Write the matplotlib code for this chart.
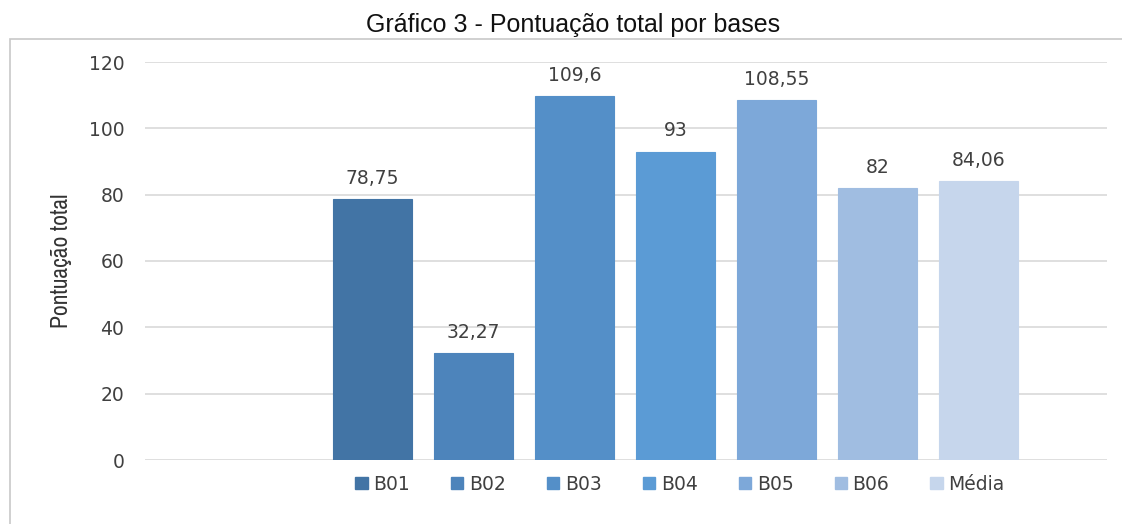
import matplotlib
matplotlib.use("Agg")
import matplotlib.pyplot as plt
from matplotlib import font_manager
from matplotlib.patches import Rectangle, Patch

# dados do gráfico
bases = ["B01", "B02", "B03", "B04", "B05", "B06", "Média"]
pontuacao = [78.75, 32.27, 109.6, 93, 108.55, 82, 84.06]
rotulos = ["78,75", "32,27", "109,6", "93", "108,55", "82", "84,06"]
cores = ["#4274a5", "#4d84bb", "#548fc8", "#5b9bd5", "#7da8d9", "#a0bde1", "#c6d6ec"]

# fonte estreita para o rótulo do eixo y, se houver
estreitas = sorted({f.name for f in font_manager.fontManager.ttflist
                    if "Narrow" in f.name or "Condensed" in f.name})
fonte_y = (estreitas[:1] or []) + ["DejaVu Sans"]

W, H = 1122, 524
fig = plt.figure(figsize=(W / 100, H / 100), dpi=100)
fig.patch.set_facecolor("white")

# moldura do gráfico
fig.patches.append(Rectangle((10 / W, -0.05), 1.2, 1 - 39 / H + 0.05,
                             transform=fig.transFigure, fill=False,
                             edgecolor="#c8c8c8", linewidth=1.2))

ax = fig.add_axes([145 / W, 1 - 460 / H, (1107 - 145) / W, (460 - 62) / H])
x = list(range(len(bases)))
ax.bar(x, pontuacao, width=0.78, color=cores, edgecolor=cores, linewidth=0.8, zorder=3)

for xi, v, t in zip(x, pontuacao, rotulos):
    ax.annotate(t, (xi, v), xytext=(0, 8), textcoords="offset points",
                ha="center", va="bottom", fontsize=13.5, color="#404040")

ax.set_xlim(-2.25, 7.27)
ax.set_ylim(0, 120)
ax.set_yticks(range(0, 121, 20))
ax.set_xticks([])
ax.grid(axis="y", color="#d9d9d9", linewidth=1.2, zorder=0)
for s in ax.spines.values():
    s.set_visible(False)
ax.tick_params(axis="y", length=0, pad=15, labelsize=13.5, labelcolor="#404040")

fig.text(62 / W, 1 - 261 / H, "Pontuação total", rotation=90, ha="center", va="center",
         fontsize=17, color="#333333", family=fonte_y)

fig.text(573 / W, 1 - 25 / H, "Gráfico 3 - Pontuação total por bases", ha="center",
         va="center", fontsize=18, color="#111111", family=["Liberation Sans", "DejaVu Sans"])

handles = [Patch(facecolor=c, edgecolor=c) for c in cores]
leg = fig.legend(handles, bases, loc="center", bbox_to_anchor=(680 / W, 1 - 484 / H),
                 ncol=7, frameon=False, handlelength=0.65, handleheight=0.6,
                 handletextpad=0.3, columnspacing=2.2, prop={"size": 13.5})
for t in leg.get_texts():
    t.set_color("#404040")

fig.savefig("out.png", dpi=100)
